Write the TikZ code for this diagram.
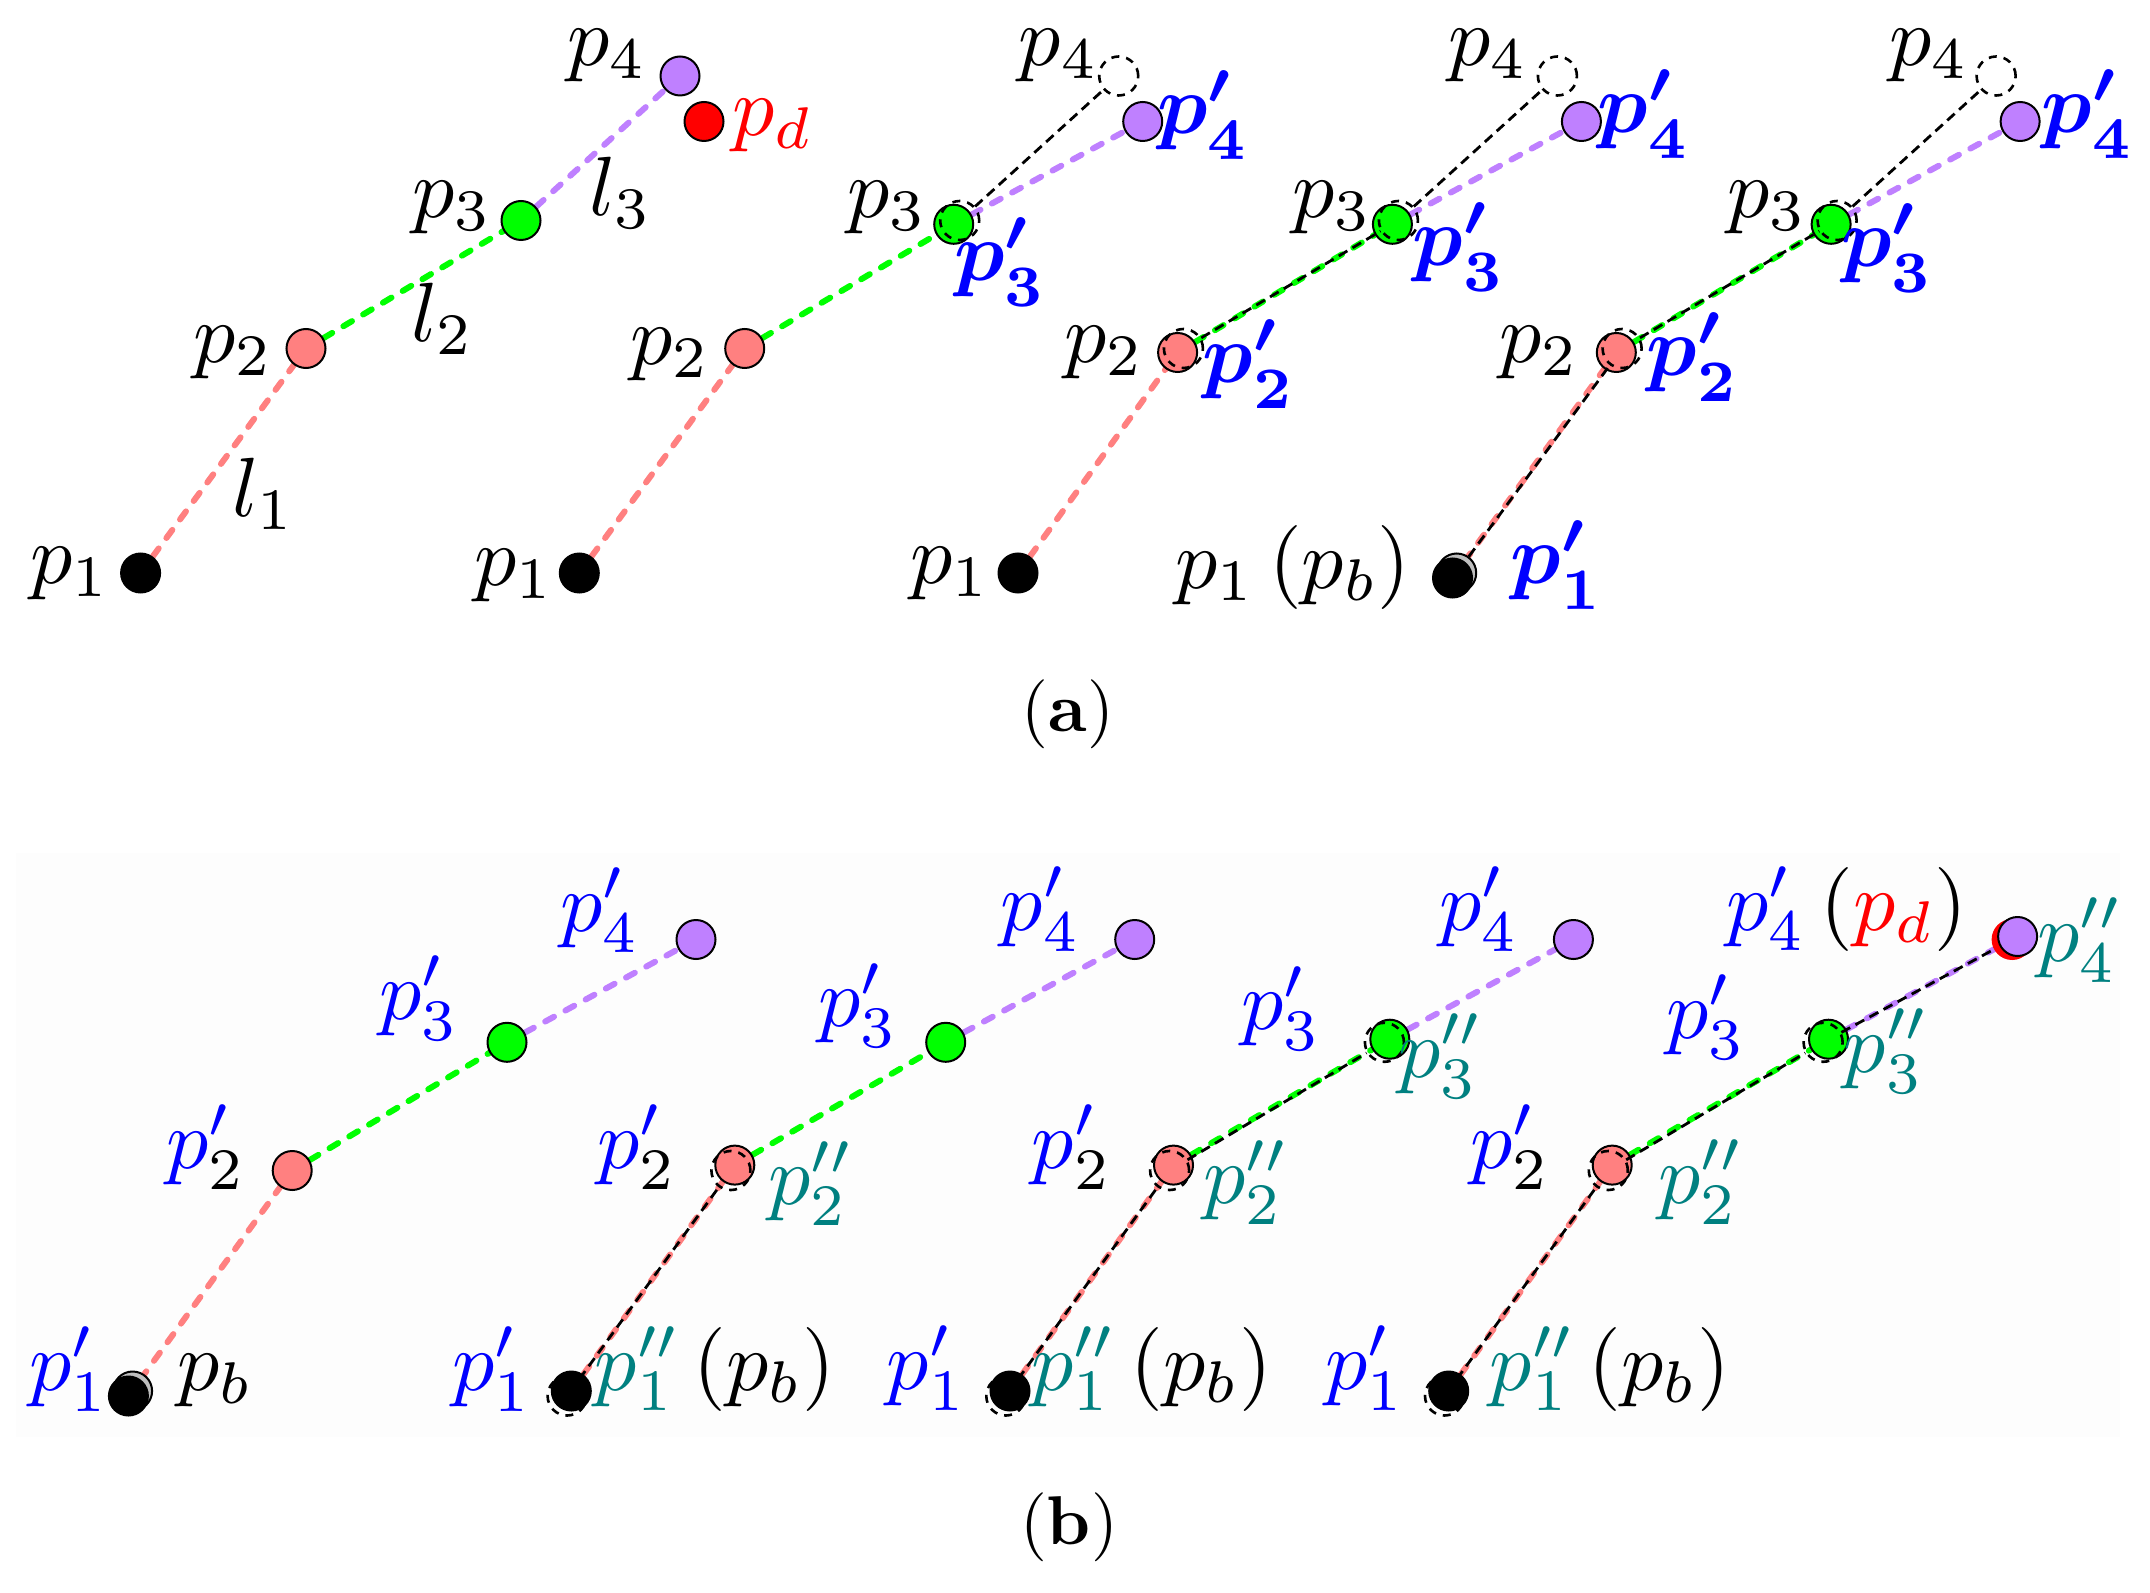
\documentclass[tikz,border=0pt]{standalone}
\pgfdeclarelayer{bglayer}
\pgfdeclarelayer{linklayer}
\pgfsetlayers{bglayer,linklayer,main}
\definecolor{cpink}{RGB}{255,128,128}
\definecolor{cgreen}{RGB}{0,255,0}
\definecolor{cpurple}{RGB}{191,128,255}
\definecolor{cblue}{RGB}{0,0,255}
\definecolor{cteal}{RGB}{0,128,128}
\definecolor{cred}{RGB}{255,0,0}
\definecolor{cgray}{RGB}{190,190,190}
\newcommand{\Lb}[1]{\scalebox{4.2}{#1}}
\newcommand{\Cp}[1]{\scalebox{3.45}{#1}}
\tikzset{
  dotn/.style={circle, draw=black, line width=1pt, minimum size=19.5pt, inner sep=0pt},
  oldc/.style={circle, draw=black, line width=1.3pt, dash pattern=on 4pt off 3.5pt, minimum size=19.5pt, inner sep=0pt},
  lnk/.style={line width=3pt, dash pattern=on 5pt off 6.5pt, line cap=round},
  oldl/.style={draw=black, line width=1.4pt, dash pattern=on 5pt off 3pt},
  lab/.style={inner sep=0pt, font=\normalsize},
  capt/.style={inner sep=0pt, font=\normalsize},
}
\begin{document}
\begin{tikzpicture}[x=0.5pt,y=-0.5pt]
\useasboundingbox (0,0) rectangle (2150,1593);
\begin{pgfonlayer}{bglayer}
\fill[white] (0,0) rectangle (2150,1593);
\fill[black!0.6] (16,853) rectangle (2120,1437);
\end{pgfonlayer}

%% ================= Panel (a) =================
% ---- column 1
\begin{scope}
\node[dotn, fill=black] (a1p1) at (140.6,573) {};
\node[dotn, fill=cpink] (a1p2) at (306,348.5) {};
\node[dotn, fill=cgreen] (a1p3) at (521,220.5) {};
\node[dotn, fill=cpurple] (a1p4) at (680,76) {};
\node[dotn, fill=cred] (a1pd) at (704,121.5) {};
\begin{pgfonlayer}{linklayer}
\draw[lnk, cpink] (a1p1) -- (a1p2);
\draw[lnk, cgreen] (a1p2) -- (a1p3);
\draw[lnk, cpurple] (a1p3) -- (a1p4);
\end{pgfonlayer}
\node[lab] (a1t4) at (607,56) {\Lb{$p_4$}};
\node[lab, text=cred] (a1td) at (773,126) {\Lb{$p_d$}};
\node[lab] (a1t3) at (452,208) {\Lb{$p_3$}};
\node[lab] (a1tl3) at (621,193) {\Lb{$l_3$}};
\node[lab] (a1t2) at (233,353) {\Lb{$p_2$}};
\node[lab] (a1tl2) at (443,319) {\Lb{$l_2$}};
\node[lab] (a1t1) at (70,574) {\Lb{$p_1$}};
\node[lab] (a1tl1) at (264,494) {\Lb{$l_1$}};
\end{scope}

% ---- column 2
\begin{scope}[shift={(438.7,0)}]
\node[dotn, fill=black] (a2p1) at (140.6,573) {};
\node[dotn, fill=cpink] (a2p2) at (306,348.5) {};
\node[dotn, fill=cgreen] (a2p3n) at (515,224.3) {};
\node[dotn, fill=cpurple] (a2p4n) at (704,121.5) {};
\node[oldc] (a2p3) at (521,220.5) {};
\node[oldc] (a2p4) at (680,76) {};
\begin{pgfonlayer}{linklayer}
\draw[lnk, cpink] (a2p1) -- (a2p2);
\draw[lnk, cgreen] (a2p2) -- (a2p3n);
\draw[lnk, cpurple] (a2p3n) -- (a2p4n);
\end{pgfonlayer}
\draw[oldl] (a2p3) -- (a2p4);
\node[lab] (a2t4) at (620,56) {\Lb{$p_4$}};
\node[lab, text=cblue] (a2t4n) at (765,115) {\Lb{\boldmath$p'_4$}};
\node[lab] (a2t3) at (448.3,208) {\Lb{$p_3$}};
\node[lab, text=cblue] (a2t3n) at (561.9,262) {\Lb{\boldmath$p'_3$}};
\node[lab] (a2t2) at (231.8,355) {\Lb{$p_2$}};
\node[lab] (a2t1) at (75.3,576) {\Lb{$p_1$}};
\end{scope}

% ---- column 3
\begin{scope}[shift={(877.4,0)}]
\node[dotn, fill=black] (a3p1) at (140.6,573) {};
\node[dotn, fill=cpink] (a3p2n) at (300.2,352.5) {};
\node[dotn, fill=cgreen] (a3p3n) at (515,224.3) {};
\node[dotn, fill=cpurple] (a3p4n) at (704,121.5) {};
\node[oldc] (a3p2) at (306,348.5) {};
\node[oldc] (a3p3) at (521,220.5) {};
\node[oldc] (a3p4) at (680,76) {};
\begin{pgfonlayer}{linklayer}
\draw[lnk, cpink] (a3p1) -- (a3p2n);
\draw[lnk, cgreen] (a3p2n) -- (a3p3n);
\draw[lnk, cpurple] (a3p3n) -- (a3p4n);
\end{pgfonlayer}
\draw[oldl] (a3p2) -- (a3p3);
\draw[oldl] (a3p3) -- (a3p4);
\node[lab] (a3t4) at (610.6,56) {\Lb{$p_4$}};
\node[lab, text=cblue] (a3t4n) at (766.6,114) {\Lb{\boldmath$p'_4$}};
\node[lab] (a3t3) at (454.6,208) {\Lb{$p_3$}};
\node[lab, text=cblue] (a3t3n) at (581.6,247) {\Lb{\boldmath$p'_3$}};
\node[lab] (a3t2) at (227.1,353) {\Lb{$p_2$}};
\node[lab, text=cblue] (a3t2n) at (371.6,364) {\Lb{\boldmath$p'_2$}};
\node[lab] (a3t1) at (73.1,574) {\Lb{$p_1$}};
\end{scope}

% ---- column 4
\begin{scope}[shift={(1316.1,0)}]
\node[dotn, fill=cgray] (a4p1) at (140.6,573) {};
\node[dotn, fill=black] (a4p1n) at (136.4,578) {};
\node[dotn, fill=cpink] (a4p2n) at (300.2,352.5) {};
\node[dotn, fill=cgreen] (a4p3n) at (515,224.3) {};
\node[dotn, fill=cpurple] (a4p4n) at (704,121.5) {};
\node[oldc] (a4p2) at (306,348.5) {};
\node[oldc] (a4p3) at (521,220.5) {};
\node[oldc] (a4p4) at (680,76) {};
\begin{pgfonlayer}{linklayer}
\draw[lnk, cpink] (a4p1n) -- (a4p2n);
\draw[lnk, cgreen] (a4p2n) -- (a4p3n);
\draw[lnk, cpurple] (a4p3n) -- (a4p4n);
\end{pgfonlayer}
\draw[oldl] (a4p1) -- (a4p2);
\draw[oldl] (a4p2) -- (a4p3);
\draw[oldl] (a4p3) -- (a4p4);
\node[lab] (a4t4) at (612.9,56) {\Lb{$p_4$}};
\node[lab, text=cblue] (a4t4n) at (771.9,114) {\Lb{\boldmath$p'_4$}};
\node[lab] (a4t3) at (450.9,208) {\Lb{$p_3$}};
\node[lab, text=cblue] (a4t3n) at (571.4,248) {\Lb{\boldmath$p'_3$}};
\node[lab] (a4t2) at (222.9,353) {\Lb{$p_2$}};
\node[lab, text=cblue] (a4t2n) at (376.9,357) {\Lb{\boldmath$p'_2$}};
\node[lab] (a4t1) at (-23.1,567) {\Lb{$p_1\,(p_b)$}};
\node[lab, text=cblue] (a4t1n) at (240.9,565) {\Lb{\boldmath$p'_1$}};
\end{scope}

\node[capt] (capa) at (1068,714) {\Cp{(\textbf{a})}};

%% ================= Panel (b) =================
% ---- column 1
\begin{scope}
\node[dotn, fill=cgray] (b1pb) at (132.6,1391) {};
\node[dotn, fill=black] (b1p1) at (128.4,1396) {};
\node[dotn, fill=cpink] (b1p2) at (292.2,1170.5) {};
\node[dotn, fill=cgreen] (b1p3) at (507,1042.3) {};
\node[dotn, fill=cpurple] (b1p4) at (696,939.5) {};
\begin{pgfonlayer}{linklayer}
\draw[lnk, cpink] (b1p1) -- (b1p2);
\draw[lnk, cgreen] (b1p2) -- (b1p3);
\draw[lnk, cpurple] (b1p3) -- (b1p4);
\end{pgfonlayer}
\node[lab] (b1t1) at (69,1369) {\Lb{$\color{cblue}p'_1$}};
\node[lab] (b1tb) at (215,1381) {\Lb{$p_b$}};
\node[lab] (b1t2) at (206.7,1147) {\Lb{$\color{cblue}p'_{\color{black}2}$}};
\node[lab] (b1t3) at (419,998) {\Lb{$\color{cblue}p'_3$}};
\node[lab] (b1t4) at (600,910) {\Lb{$\color{cblue}p'_4$}};
\end{scope}

% ---- column 2
\begin{scope}[shift={(438.7,0)}]
\node[oldc] (b2p1) at (128.4,1396) {};
\node[dotn, fill=black] (b2q1) at (132.6,1391) {};
\node[dotn, fill=cpink] (b2q2) at (296.1,1165.1) {};
\node[dotn, fill=cgreen] (b2p3) at (507,1042.3) {};
\node[dotn, fill=cpurple] (b2p4) at (696,939.5) {};
\node[oldc] (b2p2) at (292.2,1170.5) {};
\begin{pgfonlayer}{linklayer}
\draw[lnk, cpink] (b2q1) -- (b2q2);
\draw[lnk, cgreen] (b2q2) -- (b2p3);
\draw[lnk, cpurple] (b2p3) -- (b2p4);
\end{pgfonlayer}
\draw[oldl] (b2p1) -- (b2p2);
\node[lab] (b2t1) at (53.3,1369) {\Lb{$\color{cblue}p'_1$}};
\node[lab] (b2t1n) at (276.3,1369) {\Lb{$\color{cteal}p''_1\,\color{black}(p_b)$}};
\node[lab] (b2t2) at (198.3,1147) {\Lb{$\color{cblue}p'_{\color{black}2}$}};
\node[lab] (b2t2n) at (372.3,1183.6) {\Lb{$\color{cteal}p''_2$}};
\node[lab] (b2t3) at (419.3,1005.5) {\Lb{$\color{cblue}p'_3$}};
\node[lab] (b2t4) at (602,909) {\Lb{$\color{cblue}p'_4$}};
\end{scope}

% ---- column 3
\begin{scope}[shift={(877.4,0)}]
\node[oldc] (b3p1) at (128.4,1396) {};
\node[dotn, fill=black] (b3q1) at (132.6,1391) {};
\node[dotn, fill=cpink] (b3q2) at (296.1,1165.1) {};
\node[dotn, fill=cgreen] (b3q3) at (512.4,1039.2) {};
\node[dotn, fill=cpurple] (b3p4) at (696,939.5) {};
\node[oldc] (b3p2) at (292.2,1170.5) {};
\node[oldc] (b3p3) at (507,1042.3) {};
\begin{pgfonlayer}{linklayer}
\draw[lnk, cpink] (b3q1) -- (b3q2);
\draw[lnk, cgreen] (b3q2) -- (b3q3);
\draw[lnk, cpurple] (b3q3) -- (b3p4);
\end{pgfonlayer}
\draw[oldl] (b3p1) -- (b3p2);
\draw[oldl] (b3p2) -- (b3p3);
\node[lab] (b3t1) at (49.4,1368) {\Lb{$\color{cblue}p'_1$}};
\node[lab] (b3t1n) at (274.2,1369) {\Lb{$\color{cteal}p''_1\,\color{black}(p_b)$}};
\node[lab] (b3t2) at (194.4,1147) {\Lb{$\color{cblue}p'_{\color{black}2}$}};
\node[lab] (b3t2n) at (368.6,1182.5) {\Lb{$\color{cteal}p''_2$}};
\node[lab] (b3t3) at (403.6,1008.5) {\Lb{$\color{cblue}p'_3$}};
\node[lab] (b3t3n) at (563.3,1056) {\Lb{$\color{cteal}p''_3$}};
\node[lab] (b3t4) at (601.6,909) {\Lb{$\color{cblue}p'_4$}};
\end{scope}

% ---- column 4
\begin{scope}[shift={(1316.1,0)}]
\node[oldc] (b4p1) at (128.4,1396) {};
\node[dotn, fill=black] (b4q1) at (132.6,1391) {};
\node[dotn, fill=cpink] (b4q2) at (296.1,1165.1) {};
\node[dotn, fill=cgreen] (b4q3) at (512.4,1039.2) {};
\node[dotn, fill=cred, draw=cred] (b4p4) at (696,939.5) {};
\node[dotn, fill=cpurple] (b4q4) at (701.5,936.5) {};
\node[oldc] (b4p2) at (292.2,1170.5) {};
\node[oldc] (b4p3) at (507,1042.3) {};
\begin{pgfonlayer}{linklayer}
\draw[lnk, cpink] (b4q1) -- (b4q2);
\draw[lnk, cgreen] (b4q2) -- (b4q3);
\draw[lnk, cpurple] (b4q3) -- (b4q4);
\end{pgfonlayer}
\draw[oldl] (b4p1) -- (b4p2);
\draw[oldl] (b4p2) -- (b4p3);
\draw[oldl] (b4p3) -- (b4p4);
\node[lab] (b4t1) at (48.9,1368) {\Lb{$\color{cblue}p'_1$}};
\node[lab] (b4t1n) at (293.9,1369) {\Lb{$\color{cteal}p''_1\,\color{black}(p_b)$}};
\node[lab] (b4t2) at (193.9,1147) {\Lb{$\color{cblue}p'_{\color{black}2}$}};
\node[lab] (b4t2n) at (384.9,1182) {\Lb{$\color{cteal}p''_2$}};
\node[lab] (b4t3) at (389.9,1017) {\Lb{$\color{cblue}p'_3$}};
\node[lab] (b4t3n) at (570.4,1051) {\Lb{$\color{cteal}p''_3$}};
\node[lab] (b4t4) at (530.9,909) {\Lb{$\color{cblue}p'_4\,{\color{black}(}{\color{cred}p_d}{\color{black})}$}};
\node[lab] (b4t4n) at (763.9,940) {\Lb{$\color{cteal}p''_4$}};
\end{scope}

\node[capt] (capb) at (1069,1527) {\Cp{(\textbf{b})}};
\end{tikzpicture}
\end{document}
